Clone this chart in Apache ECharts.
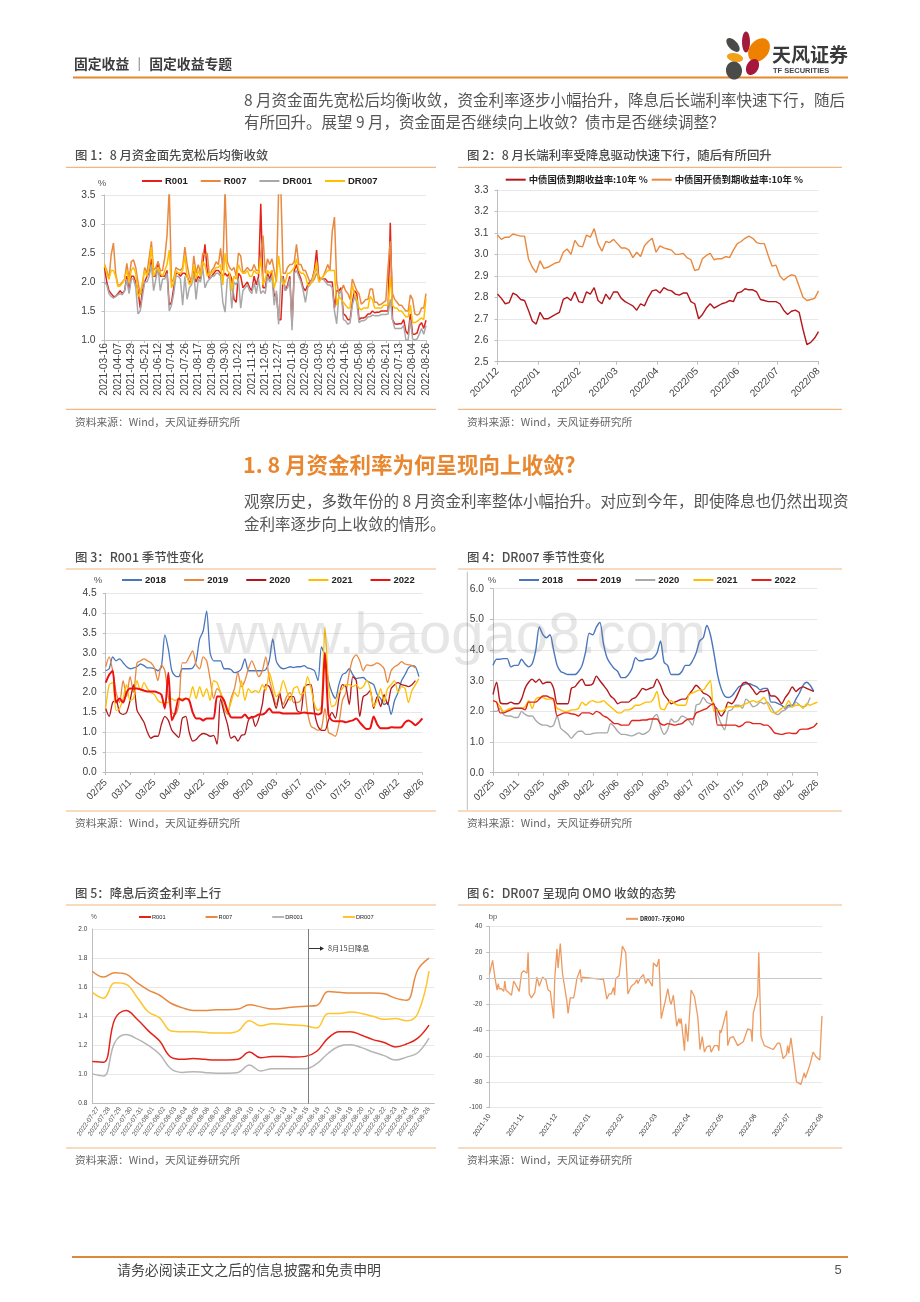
<!DOCTYPE html>
<html><head><meta charset="utf-8"><style>html,body{margin:0;padding:0;background:#fff}#c{width:920px;height:1302px}</style>
<script src="https://cdn.jsdelivr.net/npm/echarts@6/dist/echarts.min.js"></script></head>
<body><div id="c"></div><script>
// ---------- 图1 (every 22/6 days) ----------
const ticks1=['2021-03-16','2021-04-07','2021-04-29','2021-05-21','2021-06-12','2021-07-04','2021-07-26','2021-08-17','2021-09-08','2021-09-30','2021-10-22','2021-11-13','2021-12-05','2021-12-27','2022-01-18','2022-02-09','2022-03-03','2022-03-25','2022-04-16','2022-05-08','2022-05-30','2022-06-21','2022-07-13','2022-08-04','2022-08-26'];
const r001=[2.25,2.0,1.85,1.8,1.75,1.75,
1.8,1.85,1.8,1.85,2.1,1.85,
2.1,2.1,2.0,1.85,1.55,1.85,
2.0,2.1,2.15,2.4,2.1,2.1,
2.35,2.1,2.1,2.1,2.2,1.6,
1.65,1.9,2.15,2.15,2.1,2.15,
2.15,2.1,2.0,2.0,2.2,2.0,
2.1,2.05,2.3,2.65,2.2,2.05,
2.1,2.15,2.2,2.2,2.15,2.1,
2.15,2.1,2.15,2.05,1.7,1.65,
2.15,2.1,1.9,1.95,2.0,1.9,
1.85,2.1,1.95,2.1,3.35,1.9,
1.9,2.15,2.05,2.2,1.75,1.8,
1.35,1.35,2.1,1.85,1.95,2.1,
1.25,2.2,2.3,2.15,2.05,1.9,
1.85,1.95,2.0,2.05,2.2,2.55,
2.05,2.05,2.05,2.05,2.0,2.0,
2.0,1.55,1.85,1.85,1.9,1.45,
1.42,1.35,1.35,1.65,1.85,1.8,
1.35,1.38,1.38,1.4,1.45,1.45,
1.5,1.47,1.48,1.48,1.5,1.5,
1.5,1.5,3.02,1.35,1.28,1.27,
1.28,1.28,1.35,1.15,1.1,1.45,
1.1,1.1,1.12,1.25,1.3,1.2,
1.34];
const r007=[2.30,2.20,2.05,2.47,2.67,2.15,
1.95,1.95,2.0,2.05,2.32,2.05,
2.35,2.38,2.25,2.0,1.78,1.95,
2.25,2.15,2.42,2.7,2.2,2.25,
2.35,2.2,2.2,2.42,2.8,3.6,
2.0,2.05,2.25,2.22,2.2,2.25,
2.6,2.3,2.1,2.0,2.45,2.15,
2.3,2.15,2.5,2.45,2.5,2.1,
2.2,2.25,2.35,2.3,2.58,2.2,
3.6,2.35,2.25,2.2,2.25,2.1,
2.5,2.45,2.15,2.2,2.25,2.2,
2.2,2.3,2.2,2.2,2.5,2.8,
2.15,2.4,2.3,2.4,2.2,2.0,
3.6,3.6,2.15,2.15,2.25,2.3,
2.3,2.35,2.65,2.3,2.3,2.2,
2.2,2.1,2.0,2.0,2.05,2.15,
2.1,2.05,2.1,2.2,2.3,2.2,
2.87,3.12,2.0,1.8,1.85,1.95,
1.85,1.8,1.7,2.05,1.95,1.85,
1.8,1.62,1.65,1.7,1.7,1.88,
1.88,1.65,1.65,1.6,1.62,1.65,
1.68,2.25,2.7,1.8,1.7,1.65,
1.6,1.6,1.55,1.5,1.5,1.78,
1.7,1.45,1.43,1.45,1.55,1.55,
1.8];
const dr001=[2.0,1.95,1.8,1.75,1.72,1.75,
1.78,1.8,1.78,1.85,2.05,1.8,
2.05,2.05,1.9,1.45,1.5,1.75,
2.0,2.0,2.1,2.3,1.85,2.05,
2.25,1.85,2.05,2.05,2.15,1.5,
1.6,1.8,2.1,2.1,2.05,1.6,
2.1,1.7,1.9,1.95,2.15,1.7,
2.05,2.0,2.25,1.9,2.0,2.05,
2.1,2.1,2.15,2.15,2.1,1.65,
1.48,2.05,2.1,1.55,2.0,1.95,
2.05,1.55,1.85,1.9,1.95,1.85,
1.8,2.0,1.8,2.05,1.8,1.85,
1.8,2.1,2.0,2.1,1.6,1.85,
1.27,2.1,2.05,1.85,1.9,2.05,
1.17,2.15,2.2,2.1,2.0,1.85,
1.65,1.9,1.95,2.05,2.15,2.25,
2.0,2.05,2.05,2.0,1.95,1.95,
1.9,1.5,1.28,1.8,1.85,1.35,
1.33,1.27,1.3,1.6,1.75,1.65,
1.3,1.33,1.33,1.35,1.4,1.4,
1.43,1.42,1.42,1.42,1.44,1.44,
1.44,1.45,1.7,1.35,1.2,1.2,
1.2,1.2,1.25,1.0,1.0,1.35,
1.02,1.0,1.02,1.1,1.2,1.1,
1.25];
const dr007=[2.3,2.15,2.05,2.2,2.2,2.1,
1.92,1.93,1.98,2.05,2.2,2.0,
2.2,2.25,2.15,1.75,1.8,2.0,
2.2,2.1,2.25,2.6,2.1,2.2,
2.25,2.15,2.1,2.2,2.3,2.55,
1.9,2.0,2.2,2.15,2.15,2.2,
2.45,2.1,1.95,2.0,2.3,2.05,
2.2,2.1,2.35,2.3,2.1,2.15,
2.15,2.2,2.25,2.25,2.3,1.95,
2.5,2.2,2.15,1.85,2.1,2.05,
2.3,2.2,2.15,2.15,2.2,2.1,
2.1,2.2,2.15,2.15,2.4,1.95,
2.05,2.2,2.15,2.2,1.9,2.05,
2.45,2.1,1.95,2.0,2.15,2.15,
2.2,2.25,2.4,2.2,2.15,2.15,
2.1,1.95,1.95,2.0,2.15,2.35,
2.0,2.05,2.1,2.15,2.2,2.2,
2.2,2.2,1.6,1.75,1.7,1.65,
1.6,1.55,1.55,1.95,1.8,1.7,
1.55,1.52,1.55,1.55,1.55,1.75,
1.7,1.55,1.55,1.55,1.55,1.6,
1.6,1.6,2.1,1.6,1.55,1.55,
1.5,1.5,1.45,1.4,1.4,1.6,
1.3,1.3,1.32,1.35,1.38,1.35,
1.72];
// ---------- 图2 (every 3 days from 2021-12) ----------
const ticks2=['2021/12','2022/01','2022/02','2022/03','2022/04','2022/05','2022/06','2022/07','2022/08'];
const monthStartDays=[0,31,62,90,121,151,182,212,243];
const cgb10y=[2.815,2.795,2.77,2.775,2.82,2.81,2.79,2.785,2.74,2.69,2.675,2.73,2.70,2.70,2.71,2.72,2.73,2.79,2.80,2.785,2.825,2.78,2.775,2.825,2.815,2.845,2.785,2.77,2.815,2.79,2.825,2.825,2.795,2.78,2.77,2.76,2.74,2.77,2.76,2.8,2.83,2.835,2.82,2.845,2.835,2.83,2.815,2.81,2.82,2.82,2.78,2.77,2.70,2.72,2.75,2.77,2.75,2.76,2.77,2.775,2.785,2.78,2.82,2.825,2.84,2.835,2.835,2.825,2.79,2.785,2.78,2.78,2.78,2.77,2.74,2.72,2.735,2.74,2.73,2.65,2.58,2.59,2.61,2.64];
const cdb10y=[3.09,3.07,3.08,3.08,3.095,3.09,3.085,3.085,2.98,2.94,2.915,2.97,2.935,2.94,2.95,2.96,2.965,3.01,3.025,3.0,3.065,3.04,3.035,3.09,3.08,3.12,3.05,3.015,3.06,3.055,3.07,3.05,3.03,3.03,3.02,2.985,3.01,2.99,3.04,3.06,3.075,3.01,3.04,3.03,3.025,3.02,3.0,3.0,3.005,2.985,2.975,2.925,2.93,2.98,2.995,3.005,2.975,2.98,2.98,2.99,2.985,3.02,3.05,3.06,3.075,3.085,3.075,3.055,3.05,3.05,2.995,2.945,2.95,2.9,2.88,2.895,2.905,2.9,2.85,2.8,2.785,2.79,2.795,2.83];
// ---------- 图3 R001 seasonal (every 2 days) ----------
const ticksMD=['02/25','03/11','03/25','04/08','04/22','05/06','05/20','06/03','06/17','07/01','07/15','07/29','08/12','08/26'];
const r001y2018=[2.55,2.6,2.9,2.8,2.85,2.75,2.65,
2.6,2.62,2.65,2.72,2.68,2.62,2.62,
2.6,2.55,2.65,3.45,3.1,2.55,2.42,
2.4,2.6,2.6,2.6,2.62,2.8,3.35,
3.55,4.05,3.0,2.8,2.8,2.8,2.6,
2.6,2.58,2.5,2.52,2.6,2.85,2.55,
2.55,2.55,2.55,2.55,2.58,2.8,3.35,
2.8,2.65,2.6,2.62,2.65,2.63,2.65,
2.65,2.68,2.62,2.6,2.55,2.3,3.15,
2.9,2.3,2.0,1.85,2.2,2.45,2.5,
2.6,2.45,2.35,2.37,2.38,2.3,2.25,
2.2,1.95,1.85,1.7,1.75,1.45,1.8,
2.0,2.3,2.45,2.62,2.68,2.65,2.4,null];
const r001y2019=[2.65,2.9,2.55,2.0,1.75,2.3,1.9,
2.4,2.0,2.75,2.8,2.85,2.8,2.75,
2.62,2.3,2.7,2.55,1.9,1.5,1.45,
1.7,2.75,2.75,2.9,3.05,2.7,2.6,
2.9,2.8,2.35,1.85,2.1,2.0,1.6,
1.45,1.85,2.1,2.5,2.15,2.3,2.6,
2.8,2.6,2.4,2.55,2.9,2.35,2.0,
1.7,1.9,1.7,1.9,2.0,1.75,1.75,
1.8,2.15,1.5,1.15,1.1,1.05,1.1,
1.6,1.0,0.95,0.9,1.2,1.8,2.0,
2.5,2.85,2.95,2.8,2.55,2.7,2.68,
2.7,2.75,2.7,2.6,2.25,2.55,2.65,
2.7,2.78,2.72,2.7,2.68,2.62,null,null];
const r001y2020=[1.6,1.4,1.75,1.8,1.5,1.45,1.5,
1.8,2.2,1.55,1.4,1.25,1.0,0.85,
.9,.9,1.2,1.4,1.3,1.05,.95,
.87,1.35,1.4,1.0,.78,.82,.92,
.97,.95,.9,.92,.7,1.85,1.5,
1.2,.85,.9,.78,.92,.95,1.3,
1.4,1.15,1.35,1.7,2.2,2.15,1.9,
1.6,2.0,1.6,1.75,1.9,1.9,1.55,
1.5,2.1,2.2,2.2,1.5,1.15,1.05,
1.05,1.3,1.5,1.35,1.85,2.2,2.15,
1.7,2.4,2.3,1.4,1.9,1.95,2.05,
1.6,1.9,1.65,1.95,1.7,2.1,2.2,
2.25,2.2,2.18,2.15,2.2,2.3,null,null];
const r001y2021=[1.6,2.2,2.25,1.55,1.6,1.85,2.2,
1.8,1.85,2.3,2.05,2.25,2.1,2.0,
1.95,1.8,1.75,1.75,1.75,1.85,1.8,
1.85,1.85,1.85,1.85,2.15,1.85,2.15,
1.9,2.1,1.8,2.3,2.25,2.0,1.8,
1.5,1.75,2.0,1.9,2.3,1.8,2.1,
2.0,2.05,2.0,2.2,2.05,2.5,2.2,
1.9,2.0,2.3,2.05,1.8,2.1,2.15,
1.95,2.0,2.4,2.1,1.7,1.55,1.65,
3.65,2.2,1.65,1.7,2.0,2.1,2.2,
2.2,2.15,2.2,2.1,2.15,2.3,2.1,
1.65,1.8,2.1,1.75,2.1,2.2,2.3,
2.0,2.15,2.1,1.75,2.05,2.2,2.35,null];
const r001y2022=[2.25,2.45,2.55,1.75,1.85,1.75,2.0,
2.1,2.1,2.1,2.08,2.05,2.03,2.03,
2.03,2.0,1.95,1.6,2.5,1.3,1.5,
1.85,1.8,1.85,1.8,1.5,1.35,1.35,
1.3,1.35,1.35,1.35,1.9,1.9,1.8,
1.55,1.38,1.37,1.37,1.37,1.45,1.35,
1.38,1.4,1.45,1.45,1.5,1.6,1.5,
1.5,1.5,1.47,1.47,1.47,1.47,1.47,
1.48,1.5,1.48,1.48,1.47,1.45,1.5,
3.0,1.45,1.3,1.28,1.28,1.28,1.25,
1.28,1.3,1.35,1.25,1.15,1.08,1.1,
1.4,1.2,1.1,1.1,1.1,1.13,1.12,
1.12,1.13,1.25,1.3,1.25,1.18,1.25,1.35];
// ---------- 图4 DR007 seasonal (every 2 days) ----------
const dr007y2018=[3.5,3.7,3.7,3.72,3.72,3.45,3.5,
3.5,3.7,3.55,3.45,3.55,4.0,4.75,
4.5,4.4,4.5,4.0,3.5,3.3,3.25,
3.2,3.2,3.2,3.3,3.5,3.95,4.55,
4.5,4.75,4.9,4.2,3.75,3.55,3.4,
3.3,3.1,3.1,3.2,3.4,3.75,3.65,
3.65,3.7,3.7,3.75,3.9,4.3,3.6,
3.5,3.2,3.2,3.2,3.3,3.5,3.5,
3.65,3.9,4.3,4.4,4.8,4.5,3.9,
3.2,2.75,2.5,2.45,2.5,2.65,2.8,
2.85,2.9,2.9,2.85,2.8,2.7,2.75,
2.75,2.3,2.3,2.25,2.2,2.1,2.2,
2.2,2.4,2.6,2.85,2.95,2.85,2.65,null];
const dr007y2019=[2.55,2.95,2.3,2.25,2.25,2.3,2.25,
2.25,2.4,2.75,2.95,3.05,2.95,3.05,
2.9,2.95,2.95,2.75,2.25,2.25,2.25,
2.25,2.75,2.8,2.95,3.05,2.85,2.85,
2.9,3.15,3.0,2.85,2.7,2.5,2.4,
2.25,2.3,2.3,2.3,2.4,2.45,2.6,
2.75,2.7,2.75,2.8,3.05,2.85,2.55,
2.4,2.25,2.3,2.35,2.4,2.4,2.55,
2.7,2.85,2.75,2.6,2.55,2.45,2.2,
2.05,1.85,2.0,2.3,2.25,2.4,2.65,
2.9,2.95,2.85,2.7,2.55,2.65,2.65,
2.7,2.5,2.5,2.4,2.25,2.45,2.6,
2.8,2.65,2.75,2.8,2.75,2.7,2.65,null];
const dr007y2020=[2.0,2.0,2.1,1.9,1.85,1.85,1.8,
1.8,2.0,1.9,1.85,1.85,1.7,1.6,
1.55,1.55,1.5,1.55,1.85,1.45,1.35,
1.25,1.12,1.25,1.35,1.35,1.25,1.25,
1.28,1.3,1.3,1.3,1.3,1.6,1.5,
1.35,1.25,1.25,1.22,1.2,1.25,1.3,
1.25,1.3,1.4,1.8,1.9,1.5,1.25,
1.4,1.75,1.65,1.7,1.85,1.8,1.7,
1.55,2.2,2.25,2.45,2.3,2.25,2.2,
1.9,1.6,1.4,2.0,2.05,2.2,2.2,
2.1,2.4,2.3,2.15,2.2,2.3,2.25,
2.3,2.15,1.95,1.9,2.0,2.05,2.15,
2.15,2.3,2.2,2.15,2.2,2.45,null,null];
const dr007y2021=[2.35,2.3,2.15,2.0,2.05,2.1,2.1,
2.1,2.1,2.15,2.35,2.1,2.4,2.45,
2.45,2.4,2.4,2.35,2.1,2.05,2.0,
2.0,2.05,2.05,2.1,2.3,2.2,2.3,
2.35,2.3,2.3,2.35,2.25,2.15,2.05,
1.95,1.95,2.05,2.05,2.1,2.2,2.2,
2.25,2.3,2.3,2.4,2.65,2.1,2.05,
2.25,2.35,2.25,2.2,2.2,2.2,2.55,
2.6,2.65,2.7,2.7,2.85,3.0,2.0,
2.05,2.0,2.05,2.15,2.15,2.15,2.15,
2.2,2.25,2.3,2.35,2.3,2.35,2.45,
2.25,2.0,1.95,2.0,2.1,2.15,2.35,
2.15,2.2,2.2,2.1,2.25,2.2,2.25,2.3];
const dr007y2022=[2.35,2.3,1.95,1.95,2.0,2.05,2.1,
2.1,2.1,2.05,2.3,2.3,2.3,2.4,
2.5,2.5,2.45,2.4,1.85,1.9,1.95,
1.95,1.92,1.9,1.85,1.95,1.95,1.95,
1.9,2.0,1.95,1.85,1.8,1.7,1.6,
1.6,1.55,1.55,1.55,1.7,1.7,1.7,
1.72,1.72,1.75,1.75,1.75,1.6,1.55,
1.6,1.58,1.55,1.58,1.6,1.7,1.75,
1.75,1.95,2.0,2.05,2.1,2.2,2.25,
1.55,1.55,1.55,1.55,1.55,1.55,1.5,
1.55,1.65,1.65,1.6,1.6,1.6,1.55,
1.55,1.45,1.3,1.27,1.25,1.28,1.3,
1.28,1.28,1.4,1.42,1.42,1.45,1.5,1.62];
// ---------- 图5 daily ----------
const dates5=['2022-07-27','2022-07-28','2022-07-29','2022-07-30','2022-07-31','2022-08-01','2022-08-02','2022-08-03','2022-08-04','2022-08-05','2022-08-06','2022-08-07','2022-08-08','2022-08-09','2022-08-10','2022-08-11','2022-08-12','2022-08-13','2022-08-14','2022-08-15','2022-08-16','2022-08-17','2022-08-18','2022-08-19','2022-08-20','2022-08-21','2022-08-22','2022-08-23','2022-08-24','2022-08-25','2022-08-26'];
const r007d=[1.71,1.67,1.70,1.69,1.63,1.58,1.545,1.49,1.46,1.44,1.44,1.445,1.445,1.45,1.48,1.465,1.45,1.455,1.465,1.47,1.475,1.57,1.565,1.56,1.56,1.56,1.555,1.525,1.51,1.72,1.80];
const dr007d=[1.565,1.525,1.63,1.62,1.53,1.43,1.39,1.30,1.295,1.295,1.29,1.285,1.285,1.30,1.37,1.335,1.35,1.345,1.34,1.335,1.32,1.42,1.42,1.43,1.42,1.40,1.38,1.385,1.37,1.42,1.71];
const r001d=[1.09,1.085,1.38,1.44,1.38,1.30,1.23,1.12,1.105,1.11,1.105,1.10,1.10,1.105,1.155,1.115,1.125,1.125,1.12,1.125,1.16,1.25,1.295,1.295,1.27,1.24,1.22,1.19,1.21,1.25,1.34];
const dr001d=[1.005,.99,1.22,1.275,1.245,1.2,1.14,1.04,1.015,1.02,1.015,1.01,1.01,1.015,1.065,1.025,1.04,1.04,1.04,1.04,1.075,1.145,1.195,1.205,1.185,1.155,1.13,1.10,1.12,1.15,1.25];
const rateCutPosition=19.2;
// ---------- 图6 ----------
const ticks6=['2021-10','2021-11','2021-12','2022-01','2022-02','2022-03','2022-04','2022-05','2022-06','2022-07','2022-08'];
const omoDays=[0,3,5,7,8,9,11,13,14,15,20,22,27,29,31,34,35,36,38,41,43,45,48,51,53,55,58,59,61,62,64,66,70,71,73,76,77,79,82,83,84,103,106,108,110,112,113,114,117,118,119,120,123,125,126,128,131,133,134,136,139,141,143,147,148,151,153,155,158,161,163,164,166,169,171,172,173,176,177,179,182,185,188,190,192,194,196,197,199,200,203,206,207,208,209,214,215,217,220,224,229,233,236,237,238,242,243,245,248,256,260,262,263,265,268,269,270,272,277,281,284,285,289,292,295,298,300];
const omoSpread=[3,14,1,-9,-4,-8,-8,-10,-2,-9,-13,-2,-10,4,6,4,20,-12,-15,-11,1,-6,1,-1,-9,-10,-31,0,23,8,27,4,-18,-27,-15,-15,-11,0,7,-3,1,-1,-16,-12,-12,-7,-13,0,2,9,9,25,20,-12,-13,-6,-4,-1,-4,0,3,-4,0,-6,12,9,15,-31,-20,-8,-18,-20,-13,-37,-31,-35,-31,-56,-35,-49,-9,-14,-30,-55,-45,-57,-53,-54,-52,-57,-52,-52,-56,-40,-42,-25,-52,-46,-45,-52,-49,-39,-40,-49,-27,-13,20,-45,-52,-55,-50,-50,-54,-62,-59,-52,-58,-46,-80,-82,-73,-77,-67,-57,-61,-63,-29];

// ---------- styles ----------
const CJK='"Noto Sans CJK SC","Noto Sans",sans-serif', LAT='"Liberation Sans",Arial,sans-serif';
const C={red:'#E2231A',org:'#E8893F',gry:'#A8A8A8',yel:'#FFBF00',blu:'#4A76BC',dkr:'#B3161B',rul:'#F2B77F',txt:'#404040',rule2:'#E8872F'};
const pairs=(v,max)=>v.map((y,i)=>[i*max/(v.length-1),y]);
const grids=[
 {left:104.5,top:195,width:321.5,height:145},
 {left:497.5,top:190,width:321,height:171.7},
 {left:105.7,top:593.3,width:316.7,height:178.7},
 {left:493,top:588.7,width:324.3,height:184},
 {left:92.3,top:929,width:342,height:174.7},
 {left:489.3,top:926.7,width:332.7,height:181}
];
const axisLine={show:true,lineStyle:{color:'#BDBDBD',width:1}};
const axisTick={show:true,length:3,lineStyle:{color:'#BDBDBD'}};
const split={show:true,lineStyle:{color:'#E8E8E8',width:1}};
function yA(i,min,max,interval,size,fix,margin){return {gridIndex:i,type:'value',min,max,interval,axisLine,axisTick,splitLine:split,
  axisLabel:{fontFamily:LAT,fontSize:size,color:C.txt,margin,formatter:v=>fix==null?String(v):v.toFixed(fix)}};}
function xA(i,max,interval,labels,rot,size,margin){return {gridIndex:i,type:'value',min:0,max,interval,splitLine:{show:false},axisLine,axisTick,
  axisLabel:{fontFamily:LAT,fontSize:size,color:C.txt,rotate:rot,margin,showMinLabel:true,showMaxLabel:true,hideOverlap:false,formatter:v=>labels[Math.round(v/interval)]||''}};}
const xAxes=[
 xA(0,528,22,ticks1,90,10.3,3),
 {gridIndex:1,type:'value',min:0,max:243,splitLine:{show:false},axisLine,axisTick:Object.assign({customValues:monthStartDays},axisTick),
  axisLabel:{fontFamily:LAT,fontSize:10,color:C.txt,rotate:45,margin:8,customValues:monthStartDays,hideOverlap:false,formatter:v=>ticks2[monthStartDays.indexOf(v)]}},
 xA(2,182,14,ticksMD,45,9.8,9),
 xA(3,182,14,ticksMD,45,9.8,9),
 {gridIndex:4,type:'category',data:dates5,boundaryGap:true,axisLine,axisTick:{show:false},
  axisLabel:{interval:0,fontFamily:LAT,fontSize:6.6,color:'#555',rotate:55,margin:4}},
 xA(5,300,30,ticks6,55,7,7),
 {gridIndex:4,type:'value',min:0,max:30.47,show:false}
];
xAxes[5].axisLine={show:false};xAxes[5].axisTick={show:false};
const yAxes=[yA(0,1,3.5,.5,10.3,1,9),yA(1,2.5,3.3,.1,10.3,1,9),yA(2,0,4.5,.5,10.3,1,9),yA(3,0,6,1,10.3,1,9),yA(4,.8,2,.2,6.5,1,5),yA(5,-100,40,20,6.5,null,7)];
yAxes[4].axisTick={show:false};
function S(name,xi,yi,data,color,width,extra){return Object.assign({name,type:'line',xAxisIndex:xi,yAxisIndex:yi,data,showSymbol:false,symbol:'none',lineStyle:{color,width},itemStyle:{color},clip:true,z:3},extra||{});}
const sm={smooth:.25};
const series=[
 S('图1 R001',0,0,pairs(r001,528),C.red,1.5),
 S('图1 R007',0,0,pairs(r007,528),C.org,1.5),
 S('图1 DR001',0,0,pairs(dr001,528),C.gry,1.5),
 S('图1 DR007',0,0,pairs(dr007,528),C.yel,1.5),
 S('图2 中债国债到期收益率:10年 %',1,1,pairs(cgb10y,243),C.dkr,1.4),
 S('图2 中债国开债到期收益率:10年 %',1,1,pairs(cdb10y,243),C.org,1.4),
 S('图3 2018',2,2,pairs(r001y2018,182),C.blu,1.3,sm),
 S('图3 2019',2,2,pairs(r001y2019,182),C.org,1.3,sm),
 S('图3 2020',2,2,pairs(r001y2020,182),C.dkr,1.3,sm),
 S('图3 2021',2,2,pairs(r001y2021,182),C.yel,1.3,sm),
 S('图3 2022',2,2,pairs(r001y2022,182),'#EE1111',2,sm),
 S('图4 2018',3,3,pairs(dr007y2018,182),C.blu,1.4,sm),
 S('图4 2019',3,3,pairs(dr007y2019,182),C.dkr,1.4,sm),
 S('图4 2020',3,3,pairs(dr007y2020,182),C.gry,1.4,sm),
 S('图4 2021',3,3,pairs(dr007y2021,182),C.yel,1.4,sm),
 S('图4 2022',3,3,pairs(dr007y2022,182),C.red,1.4,sm),
 S('图5 R001',6,4,pairs(r001d,30),C.red,1.5,{smooth:.4,markLine:{silent:true,symbol:'none',label:{show:false},lineStyle:{color:'#7F7F7F',width:1,type:'solid'},data:[{xAxis:rateCutPosition}]}}),
 S('图5 R007',6,4,pairs(r007d,30),C.org,1.5,{smooth:.4}),
 S('图5 DR001',6,4,pairs(dr001d,30),'#B5B5B5',1.5,{smooth:.4}),
 S('图5 DR007',6,4,pairs(dr007d,30),'#FFC42E',1.5,{smooth:.4}),
 S('图6 DR007:-7天OMO',5,5,omoDays.map((d,i)=>[d,omoSpread[i]]),'#EC9A5F',1.3,{markLine:{silent:true,symbol:'none',label:{show:false},lineStyle:{color:'#C8C8C8',width:1,type:'solid'},data:[{yAxis:0}]}})
];
const strip=n=>n.slice(n.indexOf(' ')+1);
function leg(prefix,names,left,top,size,itemW,gap,bold,pad){return {left,top,padding:0,orient:'horizontal',itemWidth:itemW,itemHeight:2,itemGap:gap,icon:'rect',selectedMode:false,
  data:names.map(n=>prefix+' '+n),formatter:strip,textStyle:{fontFamily:prefix==='图2'||prefix==='图6'?CJK:LAT,fontWeight:bold,fontSize:size,color:'#222',padding:[0,0,0,pad]}};}
const legends=[
 leg('图1',['R001','R007','DR001','DR007'],142,176,9.5,20,13,'bold',-2),
 leg('图2',['中债国债到期收益率:10年 %','中债国开债到期收益率:10年 %'],505.7,175,9.4,20,4,'bold',-2),
 leg('图3',['2018','2019','2020','2021','2022'],122,575,9.5,20,18,'bold',-2),
 leg('图4',['2018','2019','2020','2021','2022'],519,575,9.5,20,14,'bold',-2),
 leg('图5',['R001','R007','DR001','DR007'],139,914,5.7,12,40,'normal',-4),
 leg('图6',['DR007:-7天OMO'],626,916,5.7,12,4,'bold',-3)
];
// ---------- page furniture ----------
const els=[];
function T(text,x,y,size,color,opt){opt=opt||{};els.push({type:'text',x,y,silent:true,z:opt.z||10,style:{text,fill:color,font:(opt.w||'normal')+' '+size+'px '+(opt.f||CJK),textVerticalAlign:'middle',textAlign:opt.a||'left'}});}
function L(x1,y1,x2,y2,color,w){els.push({type:'line',silent:true,z:5,shape:{x1,y1,x2,y2},style:{stroke:color,lineWidth:w}});}
function E(x,y,rx,ry,rot,fill){els.push({type:'ellipse',silent:true,x,y,rotation:rot,z:6,shape:{cx:0,cy:0,rx,ry},style:{fill}});}
T('固定收益 ｜ 固定收益专题',74,64,13.8,'#3c3c3c',{w:'bold'});
L(73,77.5,848,77.5,C.rule2,2.2);
E(746,42,4,10.5,0,'#A31B3A');E(759,50,9.5,13,-0.65,'#EE8100');E(733,45,4.5,8.5,0.75,'#4A4A48');E(735,57.5,8.2,4.3,-0.2,'#F3A11B');E(752.5,67,6,8.5,-0.45,'#A6163A');E(734,70.5,8,9,0.15,'#4A4A48');
T('天风证券',772,55,19,'#3a3a3a',{w:'bold'});
T('TF SECURITIES',773,71,7.5,'#444',{w:'bold',f:'"Liberation Sans Narrow","Liberation Sans",sans-serif'});
T('8 月资金面先宽松后均衡收敛，资金利率逐步小幅抬升，降息后长端利率快速下行，随后',244,100,15.5,'#555');
T('有所回升。展望 9 月，资金面是否继续向上收敛？债市是否继续调整？',244,122.5,15.5,'#555');
T('1. 8 月资金利率为何呈现向上收敛?',243,465,21.5,'#E8872F',{w:'bold'});
T('观察历史，多数年份的 8 月资金利率整体小幅抬升。对应到今年，即使降息也仍然出现资',244,501,15.5,'#555');
T('金利率逐步向上收敛的情形。',244,524,15.5,'#555');
const panels=[
 ['图 1：8 月资金面先宽松后均衡收敛',75,155,66,436,167.3,409.3,422],
 ['图 2：8 月长端利率受降息驱动快速下行，随后有所回升',467,155,458,842,167.3,409.3,422],
 ['图 3：R001 季节性变化',75,557,66,436,569,811,823],
 ['图 4：DR007 季节性变化',467,557,458,842,569,811,823],
 ['图 5：降息后资金利率上行',75,893,66,436,905,1148,1160],
 ['图 6：DR007 呈现向 OMO 收敛的态势',467,893,458,842,905,1148,1160]
];
panels.forEach(p=>{T(p[0],p[1],p[2],12.4,'#4a4a4a',{w:'500'});L(p[3],p[5],p[4],p[5],C.rul,1.2);L(p[3],p[6],p[4],p[6],C.rul,1.2);T('资料来源：Wind，天风证券研究所',p[1],p[7],10.75,'#666');});
L(467.3,571.7,467.3,810,'#BFBFBF',1);
T('%',102,183,9.5,'#555',{f:LAT,a:'center'});T('%',98,580,9.5,'#555',{f:LAT,a:'center'});T('%',492,580,9.5,'#555',{f:LAT,a:'center'});T('%',94,917,6.5,'#555',{f:LAT,a:'center'});T('bp',493,917,7.5,'#555',{f:LAT,a:'center'});
L(308,948.5,322,948.5,'#333',1);els.push({type:'polygon',silent:true,z:6,shape:{points:[[320,946.3],[324,948.5],[320,950.7]]},style:{fill:'#222'}});
T('8月15日降息',328,948.5,7.3,'#444');
L(72,1257,848,1257,'#D98A3A',2);
T('请务必阅读正文之后的信息披露和免责申明',117,1270,13.9,'#444');
T('5',838,1270,13,'#555',{f:LAT,a:'center'});
els.push({type:'text',x:461,y:637,silent:true,z:20,style:{text:'www.baogao8.com',fill:'rgba(130,130,130,0.2)',font:'normal 58px '+LAT,textAlign:'center',textVerticalAlign:'middle'}});

const chart=echarts.init(document.getElementById('c'),null,{renderer:'canvas'});
chart.setOption({animation:false,backgroundColor:'#fff',grid:grids,xAxis:xAxes,yAxis:yAxes,series,legend:legends,graphic:{elements:els}});
</script></body></html>
